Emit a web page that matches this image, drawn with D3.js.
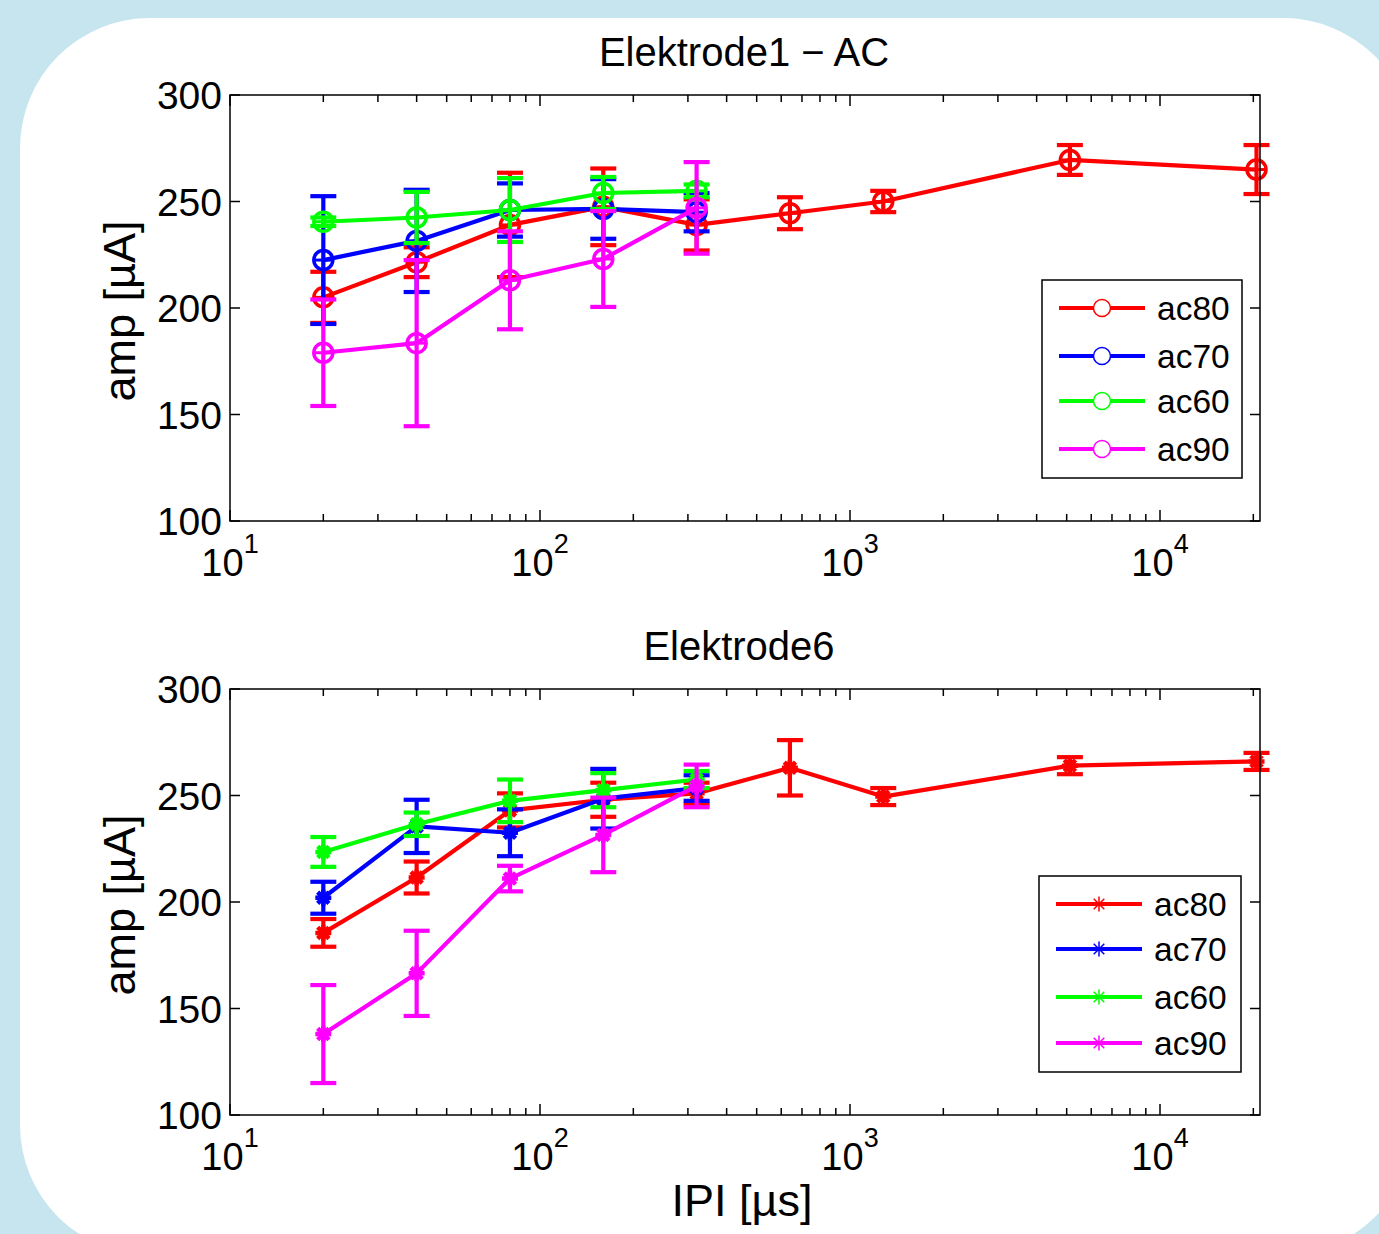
<!DOCTYPE html>
<html>
<head>
<meta charset="utf-8">
<script src="https://cdn.jsdelivr.net/npm/d3@7/dist/d3.min.js"></script>
<style>
  html, body { margin: 0; padding: 0; background: #c6e5ee; }
  svg { display: block; font-family: "Liberation Sans", Arial, Helvetica, sans-serif; }
</style>
</head>
<body>
<svg id="chart" width="1379" height="1234"></svg>
<script>
// ---- data ----
const ipi = [20, 40, 80, 160, 320, 640, 1280, 5120, 20480];
const ipiShort = [20, 40, 80, 160, 320];
const seriesNames = ["ac80", "ac70", "ac60", "ac90"];
const seriesColors = ["#ff0000", "#0000ff", "#00ff00", "#ff00ff"];
const yTicks = [100, 150, 200, 250, 300];
const xTickExps = [1, 2, 3, 4];
const titles = ["Elektrode1 \u2212 AC", "Elektrode6"];

// Elektrode1 - AC
const e1_ac80 = [205, 221.5, 239, 247.5, 239, 244.5, 250, 269.5, 265];
const e1_ac80_err = [12, 7, 24.5, 18, 12, 7.5, 5, 7, 11.5];
const e1_ac70 = [222.5, 231.5, 246, 246.5, 245];
const e1_ac70_err = [30, 24, 12.5, 14, 9];
const e1_ac60 = [240.5, 242.5, 246, 254, 255];
const e1_ac60_err = [2, 12, 15, 7.5, 3];
const e1_ac90 = [179, 183.5, 213, 223, 247];
const e1_ac90_err = [25, 39, 23, 22.5, 21.5];

// Elektrode6
const e6_ac80 = [185.5, 211.5, 243, 248, 251, 263, 249.5, 264, 266];
const e6_ac80_err = [6.5, 7.5, 8, 8, 5, 13, 4, 4, 4];
const e6_ac70 = [202, 235.5, 232.5, 248.5, 253.5];
const e6_ac70_err = [7.5, 12.5, 11, 14, 6];
const e6_ac60 = [223.5, 236.5, 247.5, 252.5, 257.5];
const e6_ac60_err = [7, 5.5, 10, 8, 4];
const e6_ac90 = [138, 166.5, 211, 231.5, 254.5];
const e6_ac90_err = [23, 20, 6, 17.5, 10];

// ---- drawing ----
const svg = d3.select("#chart");
svg.append("rect").attr("width", 1379).attr("height", 1234).attr("fill", "#c6e5ee");
svg.append("rect").attr("x", 20).attr("y", 18).attr("width", 1393).attr("height", 1237)
  .attr("rx", 130).attr("ry", 130).attr("fill", "#ffffff");

const left = 230, right = 1260;
const xMax = Math.pow(10, 1 + 1030 / 310);
const x = d3.scaleLog().domain([10, xMax]).range([left, right]);

function starPath(r) {
  const d = r * Math.SQRT1_2;
  return `M${-r},0L${r},0M0,${-r}L0,${r}M${-d},${-d}L${d},${d}M${-d},${d}L${d},${-d}`;
}

function drawPanel(cfg) {
  const top = cfg.top, bottom = cfg.top + 426;
  const y = d3.scaleLinear().domain([100, 300]).range([bottom, top]);
  const g = svg.append("g");

  // title
  g.append("text").attr("x", cfg.titleX).attr("y", top - 29)
    .attr("text-anchor", "middle").attr("font-size", 40).text(cfg.title);

  // data
  const line = d3.line().x(d => x(d[0])).y(d => y(d[1]));
  cfg.series.forEach((s, i) => {
    const color = seriesColors[i];
    const pts = s.xs.map((xv, k) => [xv, s.v[k], s.e[k]]);
    const sg = g.append("g");
    sg.append("path").datum(pts).attr("d", line).attr("fill", "none")
      .attr("stroke", color).attr("stroke-width", 4.2).attr("stroke-linejoin", "round");
    // error bars
    pts.forEach(p => {
      const px = x(p[0]);
      sg.append("line").attr("x1", px).attr("x2", px)
        .attr("y1", y(p[1] - p[2])).attr("y2", y(p[1] + p[2]))
        .attr("stroke", color).attr("stroke-width", 4.2);
      [p[1] - p[2], p[1] + p[2]].forEach(v => {
        sg.append("line").attr("x1", px - 13).attr("x2", px + 13)
          .attr("y1", y(v)).attr("y2", y(v)).attr("stroke", color).attr("stroke-width", 4.2);
      });
      if (cfg.marker === "circle") {
        sg.append("circle").attr("cx", px).attr("cy", y(p[1])).attr("r", 9.5)
          .attr("fill", "none").attr("stroke", color).attr("stroke-width", 3.5);
        sg.append("line").attr("x1", px - 9.5).attr("x2", px + 9.5)
          .attr("y1", y(p[1])).attr("y2", y(p[1])).attr("stroke", color).attr("stroke-width", 3);
      } else {
        sg.append("path").attr("transform", `translate(${px},${y(p[1])})`)
          .attr("d", starPath(8)).attr("stroke", color).attr("stroke-width", 4.5).attr("fill", "none");
      }
    });
  });

  // axes frame
  const ax = g.append("g").attr("stroke", "#000").attr("stroke-width", 1.5);
  ax.append("rect").attr("x", left).attr("y", top).attr("width", right - left).attr("height", bottom - top)
    .attr("fill", "none");
  // y ticks
  yTicks.forEach(t => {
    ax.append("line").attr("x1", left).attr("x2", left + 10).attr("y1", y(t)).attr("y2", y(t));
    ax.append("line").attr("x1", right).attr("x2", right - 10).attr("y1", y(t)).attr("y2", y(t));
    g.append("text").attr("x", 222).attr("y", y(t)).attr("dy", "0.36em")
      .attr("text-anchor", "end").attr("font-size", 39).text(t);
  });
  // x ticks (major + minor)
  for (let e = 1; e <= 4; e++) {
    for (let m = 1; m <= 9; m++) {
      const v = m * Math.pow(10, e);
      if (v > xMax) continue;
      const len = m === 1 ? 11 : 7;
      ax.append("line").attr("x1", x(v)).attr("x2", x(v)).attr("y1", bottom).attr("y2", bottom - len);
      ax.append("line").attr("x1", x(v)).attr("x2", x(v)).attr("y1", top).attr("y2", top + len);
    }
  }
  xTickExps.forEach(e => {
    const t = g.append("text").attr("x", x(Math.pow(10, e))).attr("y", bottom + 55)
      .attr("text-anchor", "middle").attr("font-size", 38);
    t.append("tspan").text("10");
    t.append("tspan").attr("font-size", 27).attr("dy", -23).text(e);
  });

  // y label
  g.append("text").attr("transform", `translate(135,${(top + bottom) / 2 + 3}) rotate(-90)`)
    .attr("text-anchor", "middle").attr("font-size", 45).text("amp [\u00b5A]");

  // legend
  const L = cfg.legend;
  g.append("rect").attr("x", L.x).attr("y", L.y).attr("width", L.w).attr("height", L.h)
    .attr("fill", "#fff").attr("stroke", "#000").attr("stroke-width", 1.5);
  seriesNames.forEach((n, i) => {
    const ly = L.rows[i];
    const color = seriesColors[i];
    g.append("line").attr("x1", L.x + 17).attr("x2", L.x + 103).attr("y1", ly).attr("y2", ly)
      .attr("stroke", color).attr("stroke-width", 4);
    if (cfg.marker === "circle") {
      g.append("circle").attr("cx", L.x + 60).attr("cy", ly).attr("r", 8.5)
        .attr("fill", "#fff").attr("stroke", color).attr("stroke-width", 1.5);
    } else {
      g.append("path").attr("transform", `translate(${L.x + 60},${ly})`)
        .attr("d", starPath(7.5)).attr("stroke", color).attr("stroke-width", 1.5);
    }
    g.append("text").attr("x", L.x + 115).attr("y", ly).attr("dy", "0.36em")
      .attr("font-size", 33.5).text(n);
  });
}

drawPanel({
  top: 95, title: titles[0], titleX: 744, marker: "circle",
  series: [
    { xs: ipi, v: e1_ac80, e: e1_ac80_err },
    { xs: ipiShort, v: e1_ac70, e: e1_ac70_err },
    { xs: ipiShort, v: e1_ac60, e: e1_ac60_err },
    { xs: ipiShort, v: e1_ac90, e: e1_ac90_err }
  ],
  legend: { x: 1042, y: 280, w: 200, h: 198, rows: [308, 356, 401, 449] }
});

drawPanel({
  top: 689, title: titles[1], titleX: 739, marker: "star",
  series: [
    { xs: ipi, v: e6_ac80, e: e6_ac80_err },
    { xs: ipiShort, v: e6_ac70, e: e6_ac70_err },
    { xs: ipiShort, v: e6_ac60, e: e6_ac60_err },
    { xs: ipiShort, v: e6_ac90, e: e6_ac90_err }
  ],
  legend: { x: 1039, y: 876, w: 202, h: 196, rows: [904, 949, 997, 1043] }
});

svg.append("text").attr("x", 742).attr("y", 1216).attr("text-anchor", "middle")
  .attr("font-size", 45).text("IPI [\u00b5s]");
</script>
</body>
</html>
